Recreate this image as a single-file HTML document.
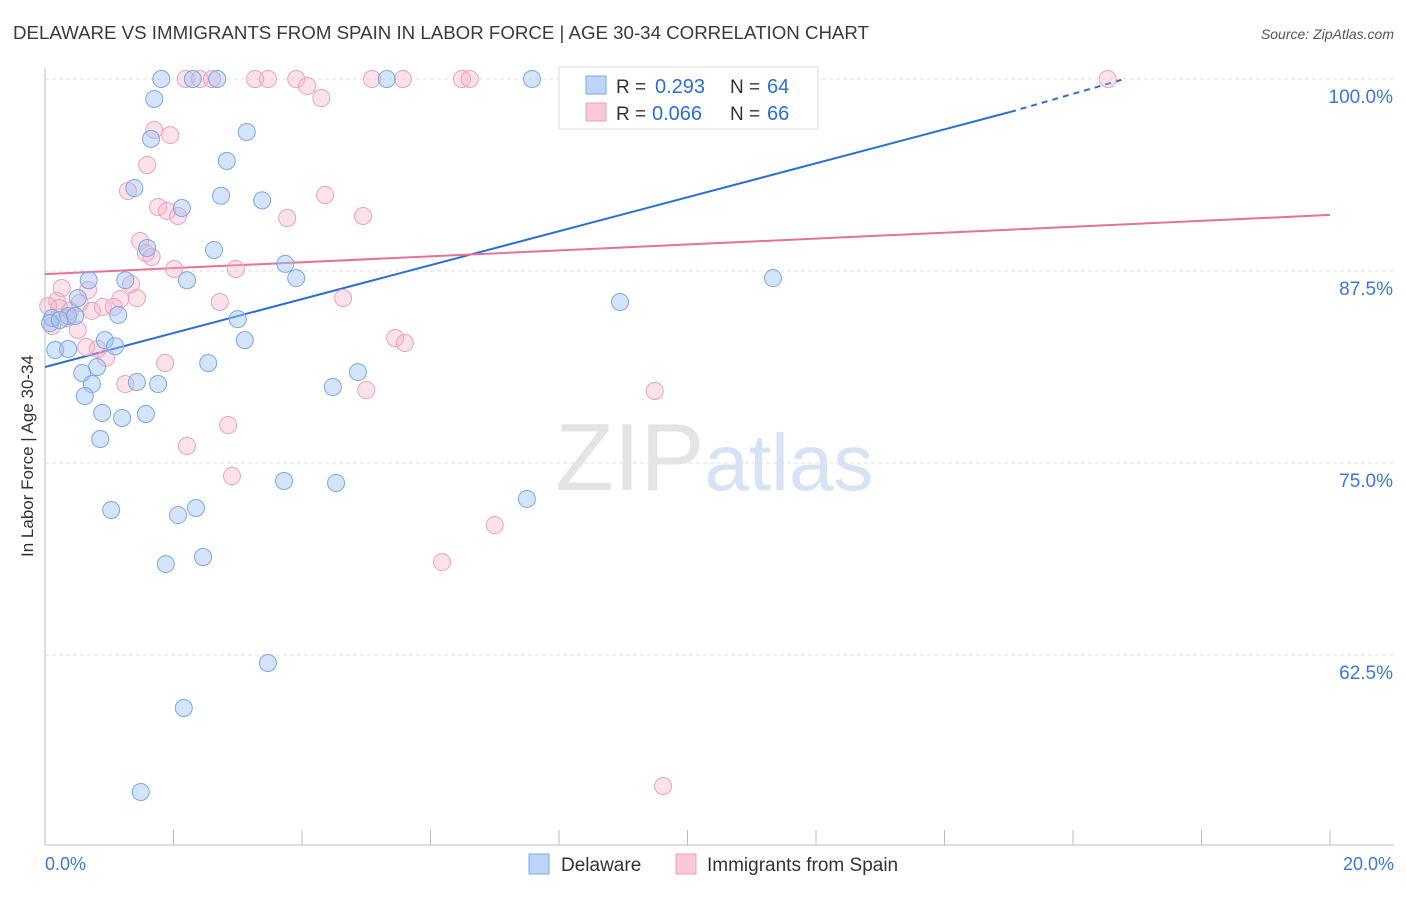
<!DOCTYPE html>
<html><head><meta charset="utf-8"><style>
body{margin:0;background:#fff;font-family:"Liberation Sans",sans-serif;}
svg text{font-family:"Liberation Sans",sans-serif;}
</style></head><body>
<svg id="chart" width="1406" height="892" xmlns="http://www.w3.org/2000/svg">
<text x="13" y="39" font-size="18.7" fill="#3a3a3a">DELAWARE VS IMMIGRANTS FROM SPAIN IN LABOR FORCE | AGE 30-34 CORRELATION CHART</text>
<text x="1394" y="39" font-size="14" fill="#555" text-anchor="end" font-style="italic">Source: ZipAtlas.com</text>
<text x="555" y="490" font-size="96" fill="#e4e4e4" font-family="Liberation Serif">ZIP<tspan fill="#d6e3f5" font-family="Liberation Sans" font-size="80">atlas</tspan></text>
<text transform="translate(33,456) rotate(-90)" font-size="17" fill="#333" text-anchor="middle">In Labor Force | Age 30-34</text>
<g id="grid"></g><g id="axes"></g><g id="lines"></g><g id="pts"></g>
<g>
<rect x="559" y="67" width="259" height="62" fill="#fff" stroke="#ddd"/>
<rect x="586" y="76" width="20" height="18" fill="#bcd4f6" stroke="#7aaae8"/>
<text x="616" y="93" font-size="19" fill="#333">R =</text>
<text x="655" y="93" font-size="20" fill="#2a6fd6">0.293</text>
<text x="730" y="93" font-size="19" fill="#333">N =</text>
<text x="767" y="93" font-size="20" fill="#2a6fd6">64</text>
<rect x="586" y="103" width="20" height="18" fill="#f9c9d7" stroke="#f0a0b8"/>
<text x="616" y="120" font-size="19" fill="#333">R =</text>
<text x="652" y="120" font-size="20" fill="#2a6fd6">0.066</text>
<text x="730" y="120" font-size="19" fill="#333">N =</text>
<text x="767" y="120" font-size="20" fill="#2a6fd6">66</text>
</g>
<g>
<rect x="529" y="854" width="20" height="20" fill="#bcd4f6" stroke="#7aaae8"/>
<text x="561" y="871" font-size="19" fill="#333">Delaware</text>
<rect x="676" y="854" width="20" height="20" fill="#f9c9d7" stroke="#f0a0b8"/>
<text x="707" y="871" font-size="19" fill="#333">Immigrants from Spain</text>
</g>
</svg>
<script>
const yTicks=[100,87.5,75,62.5];
const yTickLabels=["100.0%","87.5%","75.0%","62.5%"];
const xTickVals=[0,2,4,6,8,10,12,14,16,18,20];
const blueX=[1.81,2.30,2.68,5.32,7.58,1.70,3.14,1.65,2.83,1.39,2.74,3.38,2.13,2.63,1.59,3.74,0.68,1.25,2.21,3.91,11.33,8.95,0.51,1.14,0.11,0.36,3.00,0.93,1.09,3.11,0.16,0.36,0.81,2.54,0.58,4.87,0.73,1.43,1.76,4.48,0.62,0.89,1.57,1.20,0.86,3.72,4.53,7.50,1.03,2.35,2.07,2.46,1.88,3.47,2.16,1.49,0.08,0.23,0.47];
const blueY=[100,100,100,100,100,98.7,96.55,96.1,94.66,92.9,92.4,92.1,91.6,88.87,89.0,87.96,86.9,86.9,86.9,87.04,87.04,85.48,85.74,84.64,84.44,84.57,84.37,83.0,82.6,83.0,82.36,82.42,81.25,81.51,80.86,80.92,80.14,80.27,80.14,79.95,79.36,78.26,78.19,77.93,76.56,73.83,73.7,72.66,71.94,72.07,71.61,68.88,68.42,61.98,59.05,53.58,84.11,84.31,84.57];
const pinkX=[2.19,2.41,2.60,3.27,3.47,3.91,5.09,5.57,6.49,6.61,11.17,16.54,4.08,4.30,1.70,1.95,1.59,1.29,4.36,1.76,1.90,2.07,3.77,4.95,1.48,1.57,1.66,2.01,2.97,0.67,0.26,0.19,0.54,1.34,1.17,1.43,0.90,1.07,2.72,4.64,0.39,0.73,0.22,0.05,0.34,5.45,5.60,0.64,0.82,0.95,1.87,1.25,5.0,9.49,2.85,2.21,2.91,7.0,6.18,9.62,0.51,0.11];
const pinkY=[100,100,100,100,100,100,100,100,100,100,100,100,99.54,98.76,96.68,96.35,94.4,92.71,92.45,91.67,91.41,91.08,90.95,91.08,89.45,88.67,88.41,87.63,87.63,86.26,86.39,85.55,85.42,86.65,85.68,85.74,85.16,85.16,85.48,85.74,84.9,84.9,85.09,85.22,84.44,83.14,82.81,82.55,82.42,81.84,81.51,80.14,79.75,79.69,77.47,76.11,74.15,70.96,68.55,53.97,83.66,83.92];
const blueLine=[[0,81.25],[15.02,97.85]];
const blueDash=[[15.02,97.85],[16.8,100]];
const pinkLine=[[0,87.3],[20,91.15]];
const NS="http://www.w3.org/2000/svg";
const sx=v=>45+v/20*1285, sy=v=>79+(100-v)*15.36;
function mk(tag,attrs,parent){const e=document.createElementNS(NS,tag);for(const k in attrs)e.setAttribute(k,attrs[k]);document.getElementById(parent).appendChild(e);return e;}
yTicks.forEach((t,i)=>{
 const l=mk('line',{x1:45,x2:1394,y1:sy(t),y2:sy(t),stroke:'#e2e2e2','stroke-dasharray':'4,3'},'grid');
 
 
 const tx=mk('text',{x:1393,y:sy(t)+24,'font-size':19,fill:'#3b78d8','text-anchor':'end'},'grid');
 tx.textContent=yTickLabels[i];
 
 
});
const ax=mk('line',{x1:45,x2:45,y1:68,y2:845,stroke:'#bbb'},'axes');


const bx=mk('line',{x1:45,x2:1394,y1:845,y2:845,stroke:'#bbb'},'axes');


xTickVals.forEach(v=>{const t=mk('line',{x1:sx(v),x2:sx(v),y1:830,y2:845,stroke:'#bbb'},'axes');
 
 });
const xl0=mk('text',{x:45,y:870,'font-size':18,fill:'#3b78d8'},'axes');xl0.textContent='0.0%';


const xl1=mk('text',{x:1394,y:870,'font-size':18,fill:'#3b78d8','text-anchor':'end'},'axes');xl1.textContent='20.0%';


function dots(X,Y,fill,stroke,name){X.forEach((x,i)=>{const c=mk('circle',{cx:sx(x),cy:sy(Y[i]),r:8.5,fill:fill,stroke:stroke,'stroke-width':1},'pts');
 
 });}
dots(pinkX,pinkY,'rgba(246,175,198,0.35)','#efa0b9','spain-point');
dots(blueX,blueY,'rgba(160,195,243,0.45)','#78a8e6','delaware-point');
function ln(p,col,dash,name){const l=mk('line',{x1:sx(p[0][0]),y1:sy(p[0][1]),x2:sx(p[1][0]),y2:sy(p[1][1]),stroke:col,'stroke-width':2},'lines');
 if(dash)l.setAttribute('stroke-dasharray','6,5');
 
 }
ln(blueLine,'#2a6fd6',false,'delaware-trendline');
ln(blueDash,'#2a6fd6',true,'delaware-trendline-extension');
ln(pinkLine,'#e8709a',false,'spain-trendline');
</script>
</body></html>
